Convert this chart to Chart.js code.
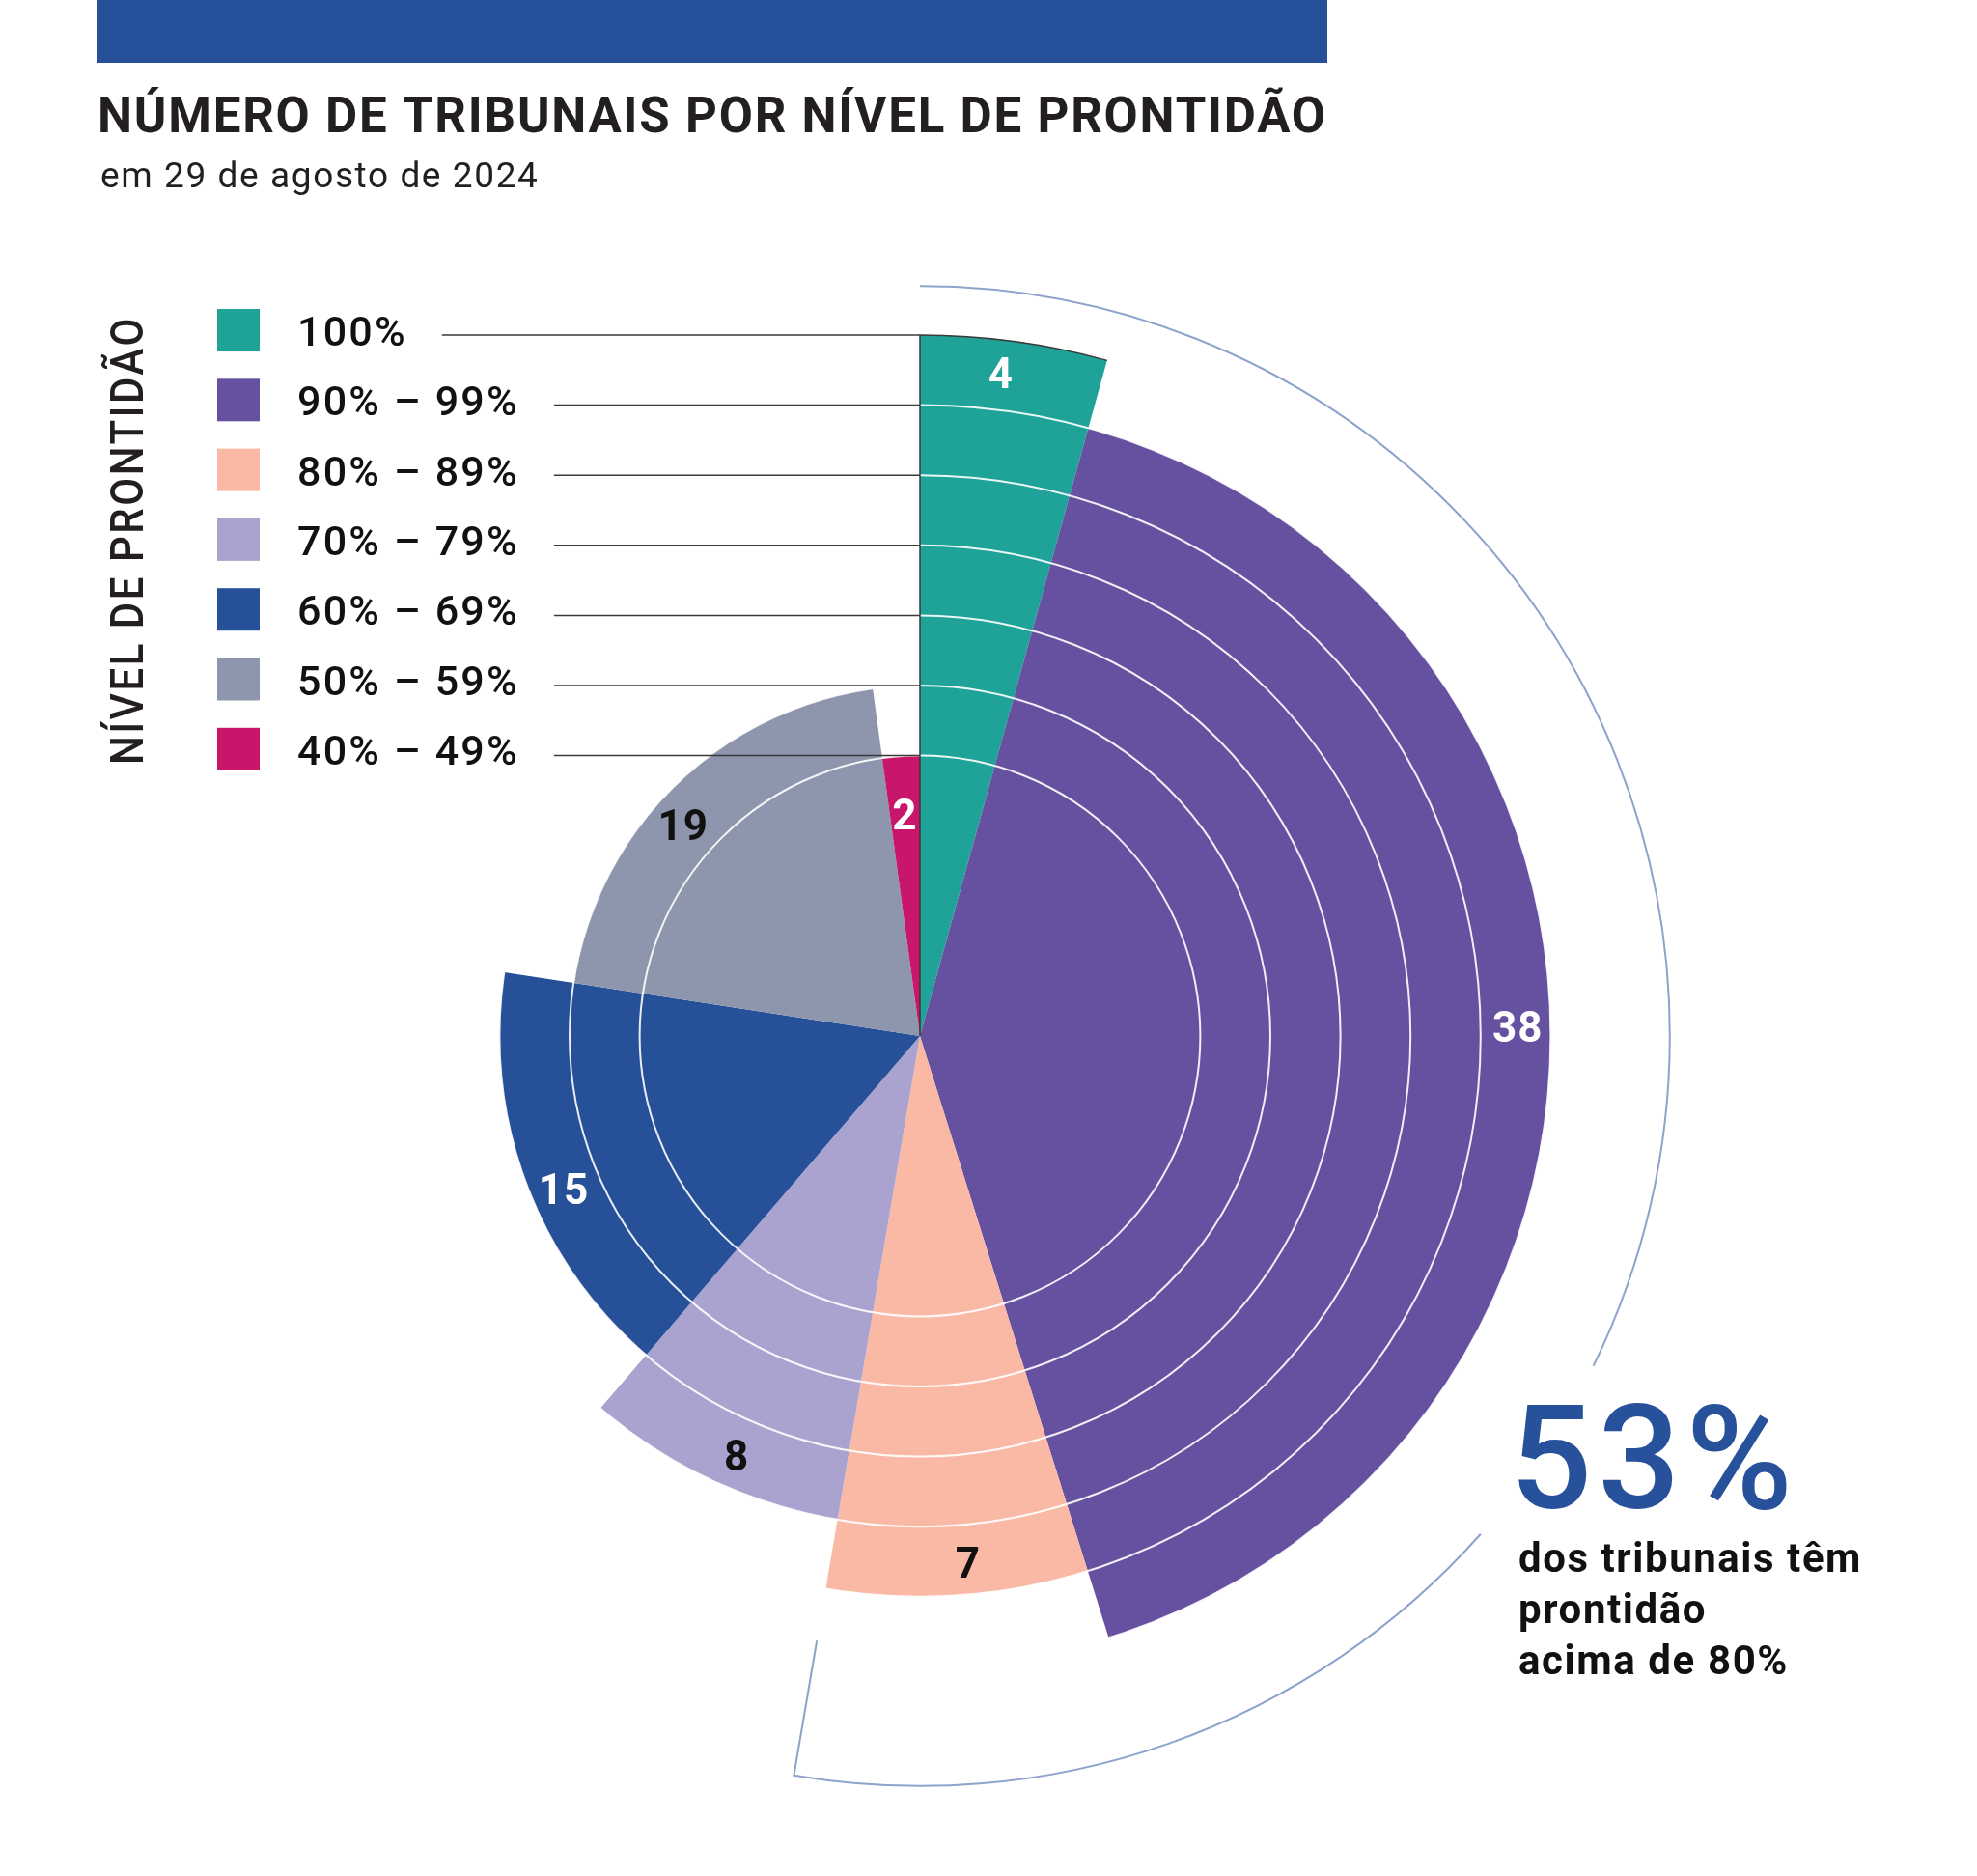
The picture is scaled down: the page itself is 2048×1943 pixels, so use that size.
<!DOCTYPE html>
<html lang="pt">
<head>
<meta charset="utf-8">
<title>Número de tribunais por nível de prontidão</title>
<script src="https://cdn.jsdelivr.net/npm/chart.js@4.4.1/dist/chart.umd.min.js"></script>
<style>
  html, body { margin: 0; padding: 0; background: #fff; }
  canvas { display: block; }
</style>
</head>
<body>
<canvas id="myChart" width="2048" height="1943"></canvas>
<script>
// readiness bands, outer ring first
const levels = ["100%", "90% – 99%", "80% – 89%", "70% – 79%", "60% – 69%", "50% – 59%", "40% – 49%"];
// lower bound of each band -> slice radius
const levelValues = [100, 90, 80, 70, 60, 50, 40];
// number of courts per band -> slice angle
const courts = [4, 38, 7, 8, 15, 19, 2];
const colors = ["#1fa398", "#6650a0", "#f9b9a5", "#aba3cf", "#265097", "#8e96ae", "#c8166a"];
const labelColors = ["#fff", "#fff", "#111", "#111", "#fff", "#111", "#fff"];
// white rings drawn over the slices
const gridLevels = [40, 50, 60, 70, 80, 90];
const noteLines = ["dos tribunais têm", "prontidão", "acima de 80%"];

const total = courts.reduce((a, b) => a + b, 0);
const above80 = courts.filter((c, i) => levelValues[i] >= 80).reduce((a, b) => a + b, 0);

const FONT = "Roboto, 'Open Sans', sans-serif";
const deg = Math.PI / 180;

// everything around the pie: titles, legend, leader lines, numbers, bracket
const decor = {
  id: "decor",
  afterDraw(chart) {
    const ctx = chart.ctx;
    const r = chart.scales.r;
    const cx = r.xCenter, cy = r.yCenter;
    const meta = chart.getDatasetMeta(0);

    ctx.save();
    ctx.textAlign = "left";
    ctx.textBaseline = "alphabetic";

    // header bar + titles
    ctx.fillStyle = "#26519a";
    ctx.fillRect(101, 0, 1274, 65);
    ctx.fillStyle = "#231f20";
    ctx.letterSpacing = "1.8px";
    ctx.font = "bold 51px " + FONT;
    ctx.fillText("NÚMERO DE TRIBUNAIS POR NÍVEL DE PRONTIDÃO", 101, 137, 1276);
    ctx.letterSpacing = "1.6px";
    ctx.font = "37px " + FONT;
    ctx.fillText("em 29 de agosto de 2024", 104, 194, 460);

    // vertical axis title
    ctx.save();
    ctx.translate(148, 792);
    ctx.rotate(-Math.PI / 2);
    ctx.letterSpacing = "3px";
    ctx.font = "500 49px " + FONT;
    ctx.fillText("NÍVEL DE PRONTIDÃO", 0, 0, 465);
    ctx.restore();

    // legend with leader lines to the top of each ring
    ctx.strokeStyle = "#3a3a3a";
    ctx.lineWidth = 1.5;
    ctx.letterSpacing = "2.2px";
    levels.forEach((lab, i) => {
      const y = 320 + i * 72.3;
      ctx.fillStyle = colors[i];
      ctx.fillRect(225, y, 44, 44);
      ctx.fillStyle = "#111";
      ctx.font = "500 43px " + FONT;
      ctx.fillText(lab, 308, y + 38, 234);
      const w = Math.min(ctx.measureText(lab).width, 234);
      const ly = cy - r.getDistanceFromCenterForValue(levelValues[i]);
      ctx.beginPath();
      ctx.moveTo(308 + w + 36, ly);
      ctx.lineTo(cx, ly);
      ctx.stroke();
    });
    ctx.letterSpacing = "0px";
    ctx.beginPath();
    ctx.moveTo(cx, cy - r.getDistanceFromCenterForValue(levelValues[0]));
    ctx.lineTo(cx, cy);
    ctx.stroke();
    const first = meta.data[0];
    ctx.beginPath();
    ctx.arc(cx, cy, first.outerRadius, first.startAngle, first.endAngle);
    ctx.stroke();

    // counts inside the slices, near the outer edge
    ctx.font = "bold 44px " + FONT;
    ctx.letterSpacing = "1px";
    ctx.textAlign = "center";
    meta.data.forEach((arc, i) => {
      const span = arc.endAngle - arc.startAngle;
      const frac = span > 1.5 || span < 0.2 ? 0.5 : 0.45;
      const a = arc.startAngle + span * frac;
      const d = arc.outerRadius - (span < 0.2 ? 60 : 34);
      ctx.fillStyle = labelColors[i];
      ctx.fillText(String(courts[i]), cx + Math.cos(a) * d, cy + Math.sin(a) * d + 16);
    });
    ctx.letterSpacing = "0px";

    // bracket around the bands >= 80%
    const ro = r.getDistanceFromCenterForValue(107);
    const ri = r.getDistanceFromCenterForValue(87.5);
    const top = -Math.PI / 2;
    const end = meta.data[2].endAngle;
    ctx.strokeStyle = "#8ea3cc";
    ctx.lineWidth = 2;
    ctx.beginPath();
    ctx.arc(cx, cy, ro, top, top + 116.1 * deg);
    ctx.stroke();
    ctx.beginPath();
    ctx.arc(cx, cy, ro, top + 131.6 * deg, end);
    ctx.lineTo(cx + Math.cos(end) * ri, cy + Math.sin(end) * ri);
    ctx.stroke();

    // highlight note
    ctx.textAlign = "left";
    ctx.fillStyle = "#27519a";
    ctx.letterSpacing = "6px";
    ctx.font = "500 150px " + FONT;
    ctx.fillText(Math.round(above80 / total * 100) + "%", 1564, 1562, 304);
    ctx.fillStyle = "#111";
    ctx.letterSpacing = "1.6px";
    ctx.font = "bold 42px " + FONT;
    noteLines.forEach((t, i) => ctx.fillText(t, 1573, 1628 + i * 53, 356));
    ctx.letterSpacing = "0px";

    ctx.restore();
  }
};

const ctx = document.getElementById("myChart").getContext("2d");

const chart = new Chart(ctx, {
  type: "polarArea",
  data: {
    labels: levels,
    datasets: [
      {
        data: levelValues,
        angle: courts.map((c) => (c / total) * 360), // slice width by number of courts
        backgroundColor: colors,
        borderWidth: 0,
      },
    ],
  },
  options: {
    responsive: false,
    animation: false,
    layout: { padding: { left: 227, top: 347, right: 369, bottom: 144 } },
    plugins: {
      legend: { display: false },
      tooltip: { enabled: false },
    },
    scales: {
      r: {
        min: 0,
        max: 100,
        z: 1,
        ticks: { display: false, stepSize: 10 },
        grid: {
          z: 1,
          lineWidth: 2,
          color: (c) => (gridLevels.includes(c.tick && c.tick.value) ? "rgba(255,255,255,0.9)" : "rgba(0,0,0,0)"),
        },
        angleLines: { display: false },
        pointLabels: { display: false },
      },
    },
  },
  plugins: [decor],
});
</script>
</body>
</html>
